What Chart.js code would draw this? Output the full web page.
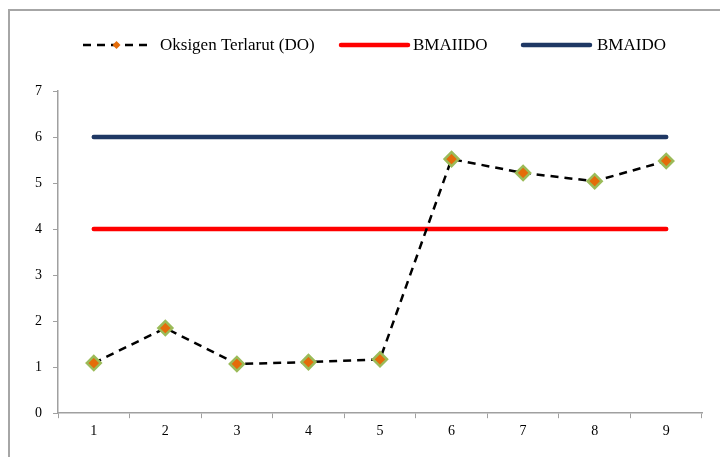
<!DOCTYPE html>
<html>
<head>
<meta charset="utf-8">
<script src="https://cdn.jsdelivr.net/npm/chart.js@4.4.0/dist/chart.umd.min.js"></script>
<style>
  html, body { margin: 0; padding: 0; background: #fff; }
  #wrap { position: relative; width: 720px; height: 457px; overflow: hidden; }
  #frame { position: absolute; left: 8px; top: 9px; width: 800px; height: 500px;
           border-left: 2px solid #a6a6a6; border-top: 2px solid #a6a6a6; }
  canvas { position: absolute; left: 0; top: 0; }
</style>
</head>
<body>
<div id="wrap">
  <div id="frame"></div>
  <canvas id="chart" width="720" height="457"></canvas>
</div>
<script>
// data
const labels = ['1', '2', '3', '4', '5', '6', '7', '8', '9'];
const oksigenDO = [1.09, 1.85, 1.07, 1.11, 1.17, 5.52, 5.22, 5.04, 5.48];
const bmaIIDO = [4, 4, 4, 4, 4, 4, 4, 4, 4];
const bmaIDO = [6, 6, 6, 6, 6, 6, 6, 6, 6];
const yTicks = [0, 1, 2, 3, 4, 5, 6, 7];

const FONT = '"Liberation Serif", "Times New Roman", serif';

// legend drawn by hand so the dashed-line + diamond sample looks right
const lineLegend = {
    id: 'lineLegend',
    afterDraw(chart) {
        const ctx = chart.ctx;
        const y = 45;
        const items = [
            { x: 83, w: 67, tx: 160, ds: chart.data.datasets[0] },
            { x: 341, w: 67, tx: 413, ds: chart.data.datasets[1] },
            { x: 523, w: 67, tx: 597, ds: chart.data.datasets[2] }
        ];
        ctx.save();
        ctx.font = '17px ' + FONT;
        ctx.textBaseline = 'middle';
        items.forEach(it => {
            const ds = it.ds;
            ctx.beginPath();
            ctx.strokeStyle = ds.borderColor;
            ctx.lineWidth = ds.borderWidth;
            ctx.lineCap = ds.borderDash ? 'butt' : 'round';
            ctx.setLineDash(ds.borderDash || []);
            ctx.moveTo(it.x, y);
            ctx.lineTo(it.x + it.w, y);
            ctx.stroke();
            ctx.setLineDash([]);
            if (ds.pointRadius) {
                const cx = it.x + it.w / 2, r = 4;
                ctx.beginPath();
                ctx.moveTo(cx, y - r); ctx.lineTo(cx + r, y);
                ctx.lineTo(cx, y + r); ctx.lineTo(cx - r, y);
                ctx.closePath();
                ctx.fillStyle = ds.pointBackgroundColor;
                ctx.fill();
            }
            ctx.fillStyle = '#000';
            ctx.fillText(ds.label, it.tx, y + 1);
        });
        ctx.restore();
    }
};

new Chart(document.getElementById('chart').getContext('2d'), {
    type: 'line',
    data: {
        labels: labels,
        datasets: [{
            label: 'Oksigen Terlarut (DO)',
            data: oksigenDO,
            borderColor: '#000000',
            borderWidth: 2.5,
            borderDash: [8, 6],
            pointStyle: 'rectRot',
            pointRadius: 7,
            pointBackgroundColor: '#e46c0a',
            pointBorderColor: '#9bbb59',
            pointBorderWidth: 2.5,
            order: 0
        }, {
            label: 'BMAIIDO',
            data: bmaIIDO,
            borderColor: '#ff0000',
            borderWidth: 4.5,
            borderCapStyle: 'round',
            pointRadius: 0,
            order: 1
        }, {
            label: 'BMAIDO',
            data: bmaIDO,
            borderColor: '#1f3864',
            borderWidth: 4.5,
            borderCapStyle: 'round',
            pointRadius: 0,
            order: 2
        }]
    },
    options: {
        responsive: false,
        animation: false,
        layout: { padding: { left: 24, right: 18, top: 91, bottom: 12 } },
        plugins: {
            legend: { display: false },
            tooltip: { enabled: false }
        },
        scales: {
            x: {
                offset: true,
                grid: { offset: true, drawOnChartArea: false, drawTicks: true, tickLength: 5, color: '#a0a0a0' },
                border: { color: '#a0a0a0', width: 1.5 },
                ticks: { color: '#000', font: { family: FONT, size: 14 }, padding: 5, maxRotation: 0 }
            },
            y: {
                min: 0,
                max: 7,
                afterBuildTicks: axis => { axis.ticks = yTicks.map(v => ({ value: v })); },
                grid: { drawOnChartArea: false, drawTicks: true, tickLength: 5, color: '#a0a0a0' },
                border: { color: '#a0a0a0', width: 1.5 },
                ticks: { color: '#000', font: { family: FONT, size: 14 }, padding: 11 }
            }
        }
    },
    plugins: [lineLegend]
});
</script>
</body>
</html>
